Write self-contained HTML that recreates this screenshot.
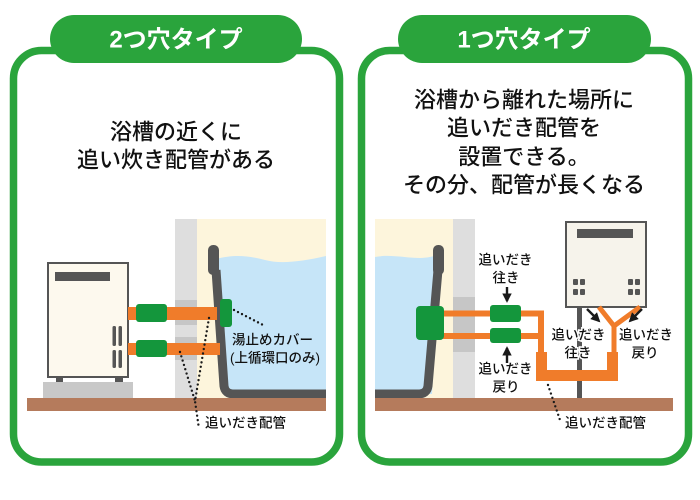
<!DOCTYPE html>
<html><head><meta charset="utf-8"><style>
html,body{margin:0;padding:0;background:#fff;}
svg{display:block;}
text{font-family:"Liberation Sans","Noto Sans CJK JP",sans-serif;}
</style></head><body>
<svg width="700" height="500" viewBox="0 0 700 500" xmlns="http://www.w3.org/2000/svg">
<defs>
<marker id="ah" viewBox="0 0 10 10" refX="8" refY="5" markerWidth="4" markerHeight="4" orient="auto-start-reverse">
<path d="M0,0 L10,5 L0,10 z" fill="#1a1a1a"/>
</marker>
</defs>
<rect width="700" height="500" fill="#fff"/>

<!-- LEFT PANEL -->
<rect x="13.5" y="50.5" width="326" height="411.5" rx="28" fill="#fff" stroke="#2aa43c" stroke-width="7.5"/>
<rect x="50" y="15" width="252" height="48" rx="24" fill="#2aa43c"/>
<text x="176" y="40" text-anchor="middle" dominant-baseline="central" font-size="24" font-weight="700" fill="#fff">2つ穴タイプ</text>
<text x="176" y="132" text-anchor="middle" dominant-baseline="central" font-size="22" font-weight="500" fill="#111">浴槽の近くに</text>
<text x="176" y="160" text-anchor="middle" dominant-baseline="central" font-size="22" font-weight="500" fill="#111">追い炊き配管がある</text>

<!-- cream wall bg -->
<rect x="197" y="219" width="129" height="179" fill="#fdf5dc"/>
<!-- water -->
<path d="M216,259 C235,254 250,256 265,260 C280,264 300,262 326,256 L326,394 L226,394 Z" fill="#c6e5f8"/>
<!-- column -->
<rect x="175" y="219" width="22" height="179" fill="#dedede"/>
<rect x="175" y="300" width="22" height="25" fill="#c6c6c6"/>
<rect x="175" y="337" width="22" height="23" fill="#c6c6c6"/>
<!-- tub -->
<rect x="208" y="245" width="11" height="30" rx="5" fill="#555"/>
<path d="M216,270 L224,386 Q225,394 234,394 L326,394" fill="none" stroke="#555" stroke-width="9" stroke-linejoin="round"/>
<!-- floor -->
<rect x="27" y="398" width="299" height="13" fill="#b57b5c"/>
<!-- heater -->
<rect x="43" y="382" width="90" height="16" fill="#c8c8c8"/>
<rect x="56" y="376" width="7" height="6" fill="#555"/>
<rect x="115" y="376" width="8" height="6" fill="#555"/>
<rect x="48" y="263" width="80" height="114" fill="#fdf9ee" stroke="#555" stroke-width="2"/>
<rect x="55" y="272" width="55" height="9" fill="#555"/>
<rect x="112.5" y="326" width="3.5" height="20" rx="1.5" fill="#555"/>
<rect x="118.5" y="326" width="3.5" height="20" rx="1.5" fill="#555"/>
<rect x="112.5" y="350" width="3.5" height="18" rx="1.5" fill="#555"/>
<rect x="118.5" y="350" width="3.5" height="18" rx="1.5" fill="#555"/>
<!-- pipes -->
<rect x="128" y="307" width="89" height="13" fill="#f07c2a"/>
<rect x="128" y="343" width="92" height="12" fill="#f07c2a"/>
<rect x="136" y="304" width="31" height="18" rx="3" fill="#14963c"/>
<rect x="136" y="340" width="31" height="17" rx="3" fill="#14963c"/>
<rect x="220" y="299" width="12" height="28" rx="3" fill="#14963c"/>
<!-- dotted leaders -->
<g fill="none" stroke="#1a1a1a" stroke-width="2.4" stroke-linecap="round" stroke-dasharray="0 4.5">
<path d="M234,310 L265,326"/>
<path d="M209,318 L195,401 L199,429"/>
<path d="M180,352 L195,401"/>
</g>
<text x="232" y="340" dominant-baseline="central" font-size="13.5" font-weight="500" fill="#111">湯止めカバー</text>
<text x="230" y="358" dominant-baseline="central" font-size="13.5" font-weight="500" fill="#111">(上循環口のみ)</text>
<text x="205" y="423" dominant-baseline="central" font-size="13.5" font-weight="500" fill="#111">追いだき配管</text>

<!-- RIGHT PANEL -->
<rect x="361.5" y="50.5" width="327" height="411.5" rx="28" fill="#fff" stroke="#2aa43c" stroke-width="7.5"/>
<rect x="398" y="15" width="253" height="48" rx="24" fill="#2aa43c"/>
<text x="524" y="40" text-anchor="middle" dominant-baseline="central" font-size="24" font-weight="700" fill="#fff">1つ穴タイプ</text>
<text x="524" y="100" text-anchor="middle" dominant-baseline="central" font-size="22" font-weight="500" fill="#111">浴槽から離れた場所に</text>
<text x="524" y="128" text-anchor="middle" dominant-baseline="central" font-size="22" font-weight="500" fill="#111">追いだき配管を</text>
<text x="524" y="157" text-anchor="middle" dominant-baseline="central" font-size="22" font-weight="500" fill="#111">設置できる。</text>
<text x="524" y="185" text-anchor="middle" dominant-baseline="central" font-size="22" font-weight="500" fill="#111">その分、配管が長くなる</text>

<rect x="375" y="219" width="78" height="179" fill="#fdf5dc"/>
<path d="M375,257 C390,254 405,258 420,258 C428,258 433,256 440,255 L432,394 L375,394 Z" fill="#c6e5f8"/>
<rect x="453" y="219" width="22" height="179" fill="#dedede"/>
<rect x="453" y="297" width="22" height="55" fill="#c6c6c6"/>
<rect x="433" y="245" width="11" height="30" rx="5" fill="#555"/>
<path d="M438,270 L428,386 Q427,394 418,394 L375,394" fill="none" stroke="#555" stroke-width="9" stroke-linejoin="round"/>
<rect x="375" y="398" width="298" height="13" fill="#b57b5c"/>

<!-- heater right -->
<rect x="577" y="307" width="5" height="91" fill="#555"/>
<rect x="566" y="222" width="80" height="85" fill="#f6f3eb" stroke="#555" stroke-width="2"/>
<rect x="577" y="229" width="56" height="9" fill="#555"/>
<g fill="#555">
<rect x="573" y="279" width="5" height="6" rx="1"/><rect x="580" y="279" width="5" height="6" rx="1"/>
<rect x="573" y="289" width="5" height="6" rx="1"/><rect x="580" y="289" width="5" height="6" rx="1"/>
<rect x="628" y="279" width="5" height="6" rx="1"/><rect x="635" y="279" width="5" height="6" rx="1"/>
<rect x="628" y="289" width="5" height="6" rx="1"/><rect x="635" y="289" width="5" height="6" rx="1"/>
</g>

<!-- pipes right -->
<g fill="none" stroke="#f07c2a">
<path d="M443,313.5 L541,313.5 L541,356" stroke-width="6"/>
<path d="M443,336 L541,336" stroke-width="6"/>
<path d="M541.5,352 L541.5,375.5 L612.5,375.5 L612.5,352" stroke-width="11"/>
<path d="M599,307 L614,326 L640,307 M614,325 L614,354" stroke-width="5" stroke-linejoin="round"/>
</g>
<rect x="416" y="306" width="28" height="34" rx="4" fill="#14963c"/>
<rect x="490" y="305" width="31" height="17" rx="3" fill="#14963c"/>
<rect x="490" y="328" width="31" height="15" rx="3" fill="#14963c"/>

<!-- arrows -->
<g stroke="#1a1a1a" stroke-width="2.4" fill="none" marker-end="url(#ah)">
<path d="M507,287 L507,301"/>
<path d="M507,363 L507,348"/>
<path d="M587,309 L599,321"/>
<path d="M642,309 L630,321"/>
</g>

<!-- labels right -->
<g font-size="13.5" font-weight="500" fill="#111" text-anchor="middle" dominant-baseline="central">
<text x="505.5" y="260">追いだき</text>
<text x="506" y="278">往き</text>
<text x="505.5" y="369">追いだき</text>
<text x="506" y="387">戻り</text>
<text x="578.5" y="335" stroke="#fff" stroke-width="3" paint-order="stroke">追いだき</text>
<text x="578" y="353" stroke="#fff" stroke-width="3" paint-order="stroke">往き</text>
<text x="646" y="335">追いだき</text>
<text x="645" y="353">戻り</text>
</g>
<path d="M548,385 L561,423" fill="none" stroke="#1a1a1a" stroke-width="2.4" stroke-linecap="round" stroke-dasharray="0 4.5"/>
<text x="565" y="423" dominant-baseline="central" font-size="13.5" font-weight="500" fill="#111">追いだき配管</text>
</svg>
</body></html>
